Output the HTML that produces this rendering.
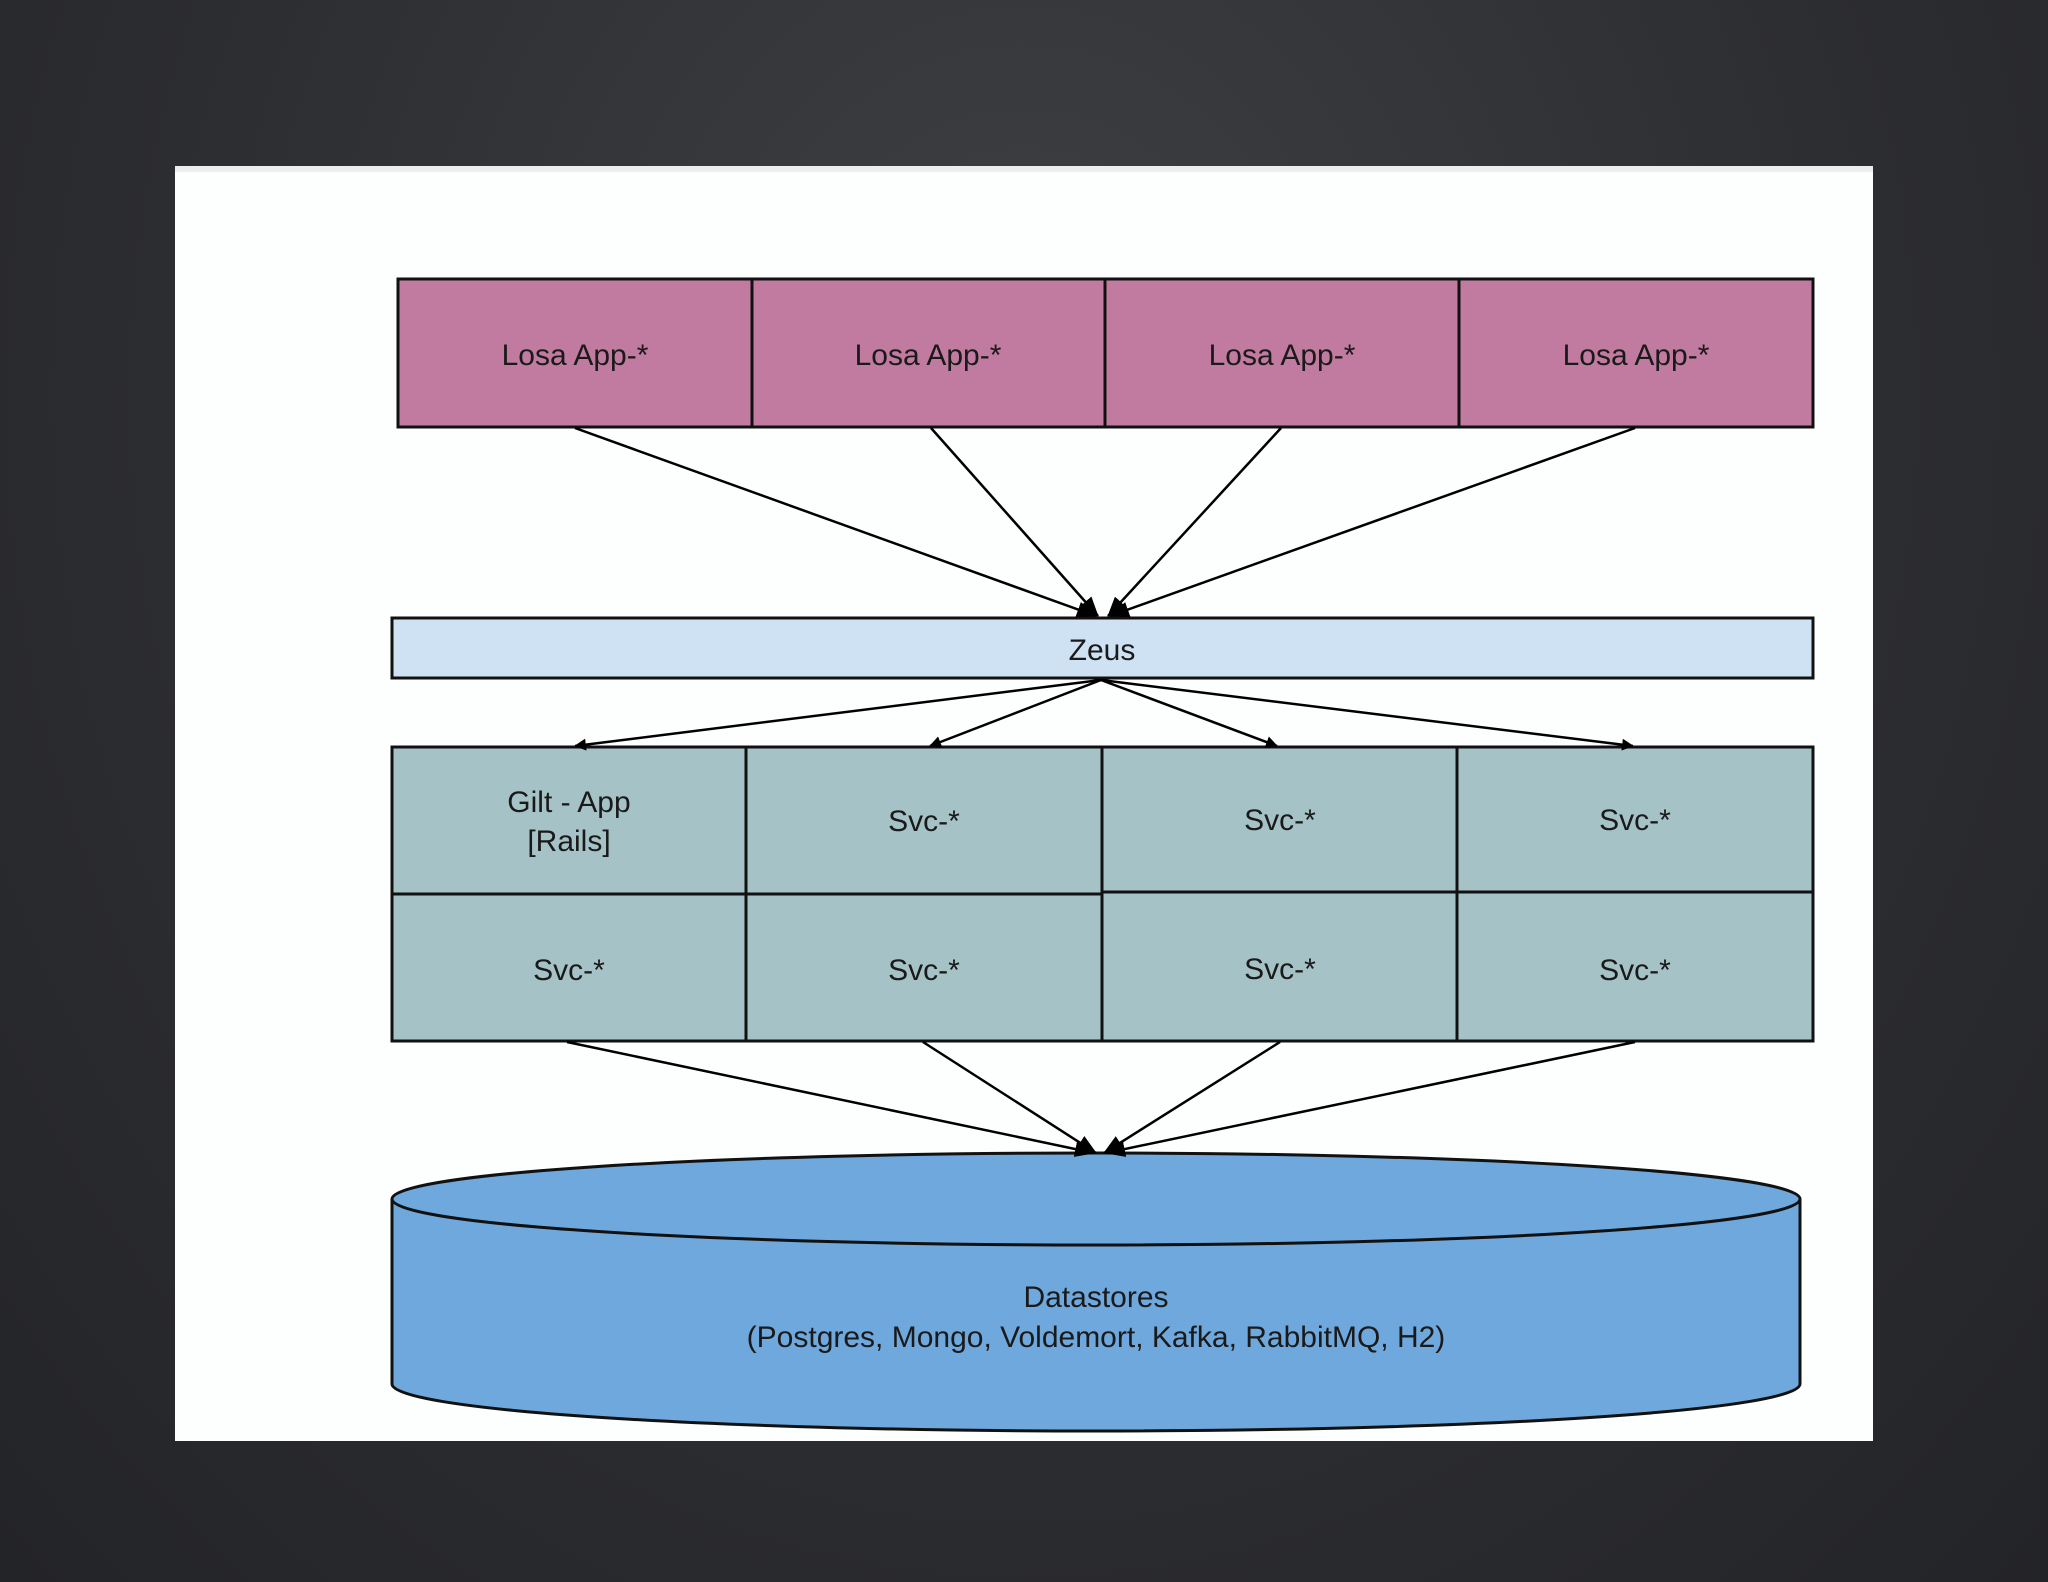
<!DOCTYPE html>
<html><head><meta charset="utf-8"><style>
html,body{margin:0;padding:0;}
body{width:2048px;height:1582px;overflow:hidden;background:radial-gradient(ellipse at 50% 25%,#3e4044 0%,#2c2d31 60%,#232427 100%);}
svg{position:absolute;left:0;top:0;}
text{font-family:"Liberation Sans",sans-serif;font-size:30px;fill:#1a1a1a;text-anchor:middle;}
</style></head><body>
<svg width="2048" height="1582" viewBox="0 0 2048 1582">
<defs><marker id="a" markerWidth="12" markerHeight="12" refX="11" refY="6" orient="auto" markerUnits="userSpaceOnUse"><path d="M0,0 L12,6 L0,12 z" fill="#000"/></marker>
<marker id="b" markerWidth="20" markerHeight="16" refX="19" refY="8" orient="auto" markerUnits="userSpaceOnUse"><path d="M0,0 L20,8 L0,16 z" fill="#000"/></marker></defs>
<rect x="175" y="166" width="1698" height="1275" fill="#fdfefe"/>
<rect x="175" y="166" width="1698" height="6" fill="#eceeef"/>
<g stroke="#111" stroke-width="3">
<rect x="398" y="279" width="354" height="148" fill="#c17ba0"/>
<rect x="752" y="279" width="353" height="148" fill="#c17ba0"/>
<rect x="1105" y="279" width="354" height="148" fill="#c17ba0"/>
<rect x="1459" y="279" width="354" height="148" fill="#c17ba0"/>
<rect x="392" y="618" width="1421" height="60" fill="#cfe2f3"/>
<rect x="392" y="747" width="354" height="147" fill="#a5c3c6"/>
<rect x="746" y="747" width="356" height="147" fill="#a5c3c6"/>
<rect x="1102" y="747" width="355" height="145" fill="#a5c3c6"/>
<rect x="1457" y="747" width="356" height="145" fill="#a5c3c6"/>
<rect x="392" y="894" width="354" height="147" fill="#a5c3c6"/>
<rect x="746" y="894" width="356" height="147" fill="#a5c3c6"/>
<rect x="1102" y="892" width="355" height="149" fill="#a5c3c6"/>
<rect x="1457" y="892" width="356" height="149" fill="#a5c3c6"/>
<path d="M392,1199 L392,1384 A704,47 0 0 0 1800,1384 L1800,1199" fill="#6fa8dc"/>
<ellipse cx="1096" cy="1199" rx="704" ry="46" fill="#6fa8dc"/>
</g>
<g stroke="#000" stroke-width="2.5" fill="none">
<line x1="575" y1="428" x2="1096" y2="616" marker-end="url(#b)"/>
<line x1="931" y1="428" x2="1098" y2="616" marker-end="url(#b)"/>
<line x1="1281" y1="428" x2="1108" y2="616" marker-end="url(#b)"/>
<line x1="1635" y1="428" x2="1110" y2="616" marker-end="url(#b)"/>
<line x1="1101" y1="680" x2="575" y2="746" marker-end="url(#a)"/>
<line x1="1101" y1="680" x2="930" y2="746" marker-end="url(#a)"/>
<line x1="1101" y1="680" x2="1277" y2="746" marker-end="url(#a)"/>
<line x1="1101" y1="680" x2="1633" y2="746" marker-end="url(#a)"/>
<line x1="567" y1="1042" x2="1094" y2="1153" marker-end="url(#b)"/>
<line x1="923" y1="1042" x2="1096" y2="1153" marker-end="url(#b)"/>
<line x1="1280" y1="1042" x2="1104" y2="1153" marker-end="url(#b)"/>
<line x1="1635" y1="1042" x2="1106" y2="1153" marker-end="url(#b)"/>
</g>
<text x="575" y="365">Losa App-*</text>
<text x="928" y="365">Losa App-*</text>
<text x="1282" y="365">Losa App-*</text>
<text x="1636" y="365">Losa App-*</text>
<text x="1102" y="660">Zeus</text>
<text x="569" y="812">Gilt - App</text>
<text x="569" y="851">[Rails]</text>
<text x="924" y="831">Svc-*</text>
<text x="1280" y="830">Svc-*</text>
<text x="1635" y="830">Svc-*</text>
<text x="569" y="980">Svc-*</text>
<text x="924" y="980">Svc-*</text>
<text x="1280" y="979">Svc-*</text>
<text x="1635" y="980">Svc-*</text>
<text x="1096" y="1307">Datastores</text>
<text x="1096" y="1347">(Postgres, Mongo, Voldemort, Kafka, RabbitMQ, H2)</text>
</svg>
</body></html>
